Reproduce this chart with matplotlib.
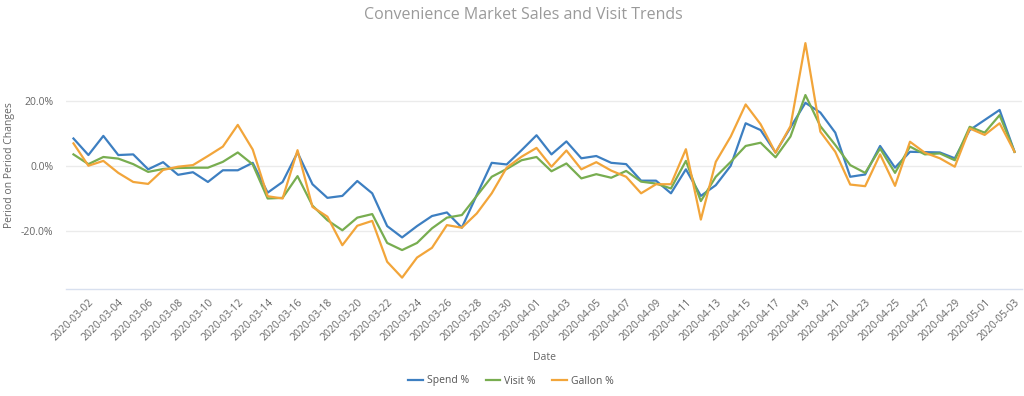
import matplotlib
matplotlib.use("Agg")
import matplotlib.pyplot as plt
import pandas as pd

# daily dates 2020-03-01 .. 2020-05-03
dates = pd.date_range("2020-03-01", "2020-05-03", freq="D").strftime("%Y-%m-%d").tolist()

spend = [8.4, 3.3, 9.2, 3.3, 3.5, -1.1, 1.1, -2.8, -2.0, -5.0,
         -1.4, -1.4, 0.9, -8.3, -5.0, 4.1, -5.7, -9.9, -9.3, -4.7,
         -8.5, -18.6, -22.1, -18.6, -15.5, -14.4, -19.1, -9.0, 0.9, 0.4,
         4.8, 9.4, 3.5, 7.5, 2.3, 3.0, 0.9, 0.5, -4.6, -4.6,
         -8.5, -1.1, -9.3, -6.0, 0.0, 13.1, 11.0, 4.1, 11.8, 19.4,
         16.4, 10.2, -3.4, -2.7, 6.1, -0.6, 4.3, 4.2, 4.1, 2.3,
         11.0, 14.1, 17.2, 4.3]
visit = [3.5, 0.5, 2.7, 2.2, 0.5, -1.9, -1.0, -0.7, -0.6, -0.6,
         1.2, 4.1, 0.4, -10.1, -9.9, -3.2, -12.3, -16.8, -19.9, -16.0,
         -14.9, -23.8, -26.0, -23.8, -19.3, -16.0, -15.2, -9.3, -3.4, -1.0,
         1.7, 2.7, -1.7, 0.7, -3.9, -2.6, -3.7, -1.6, -4.9, -5.5,
         -7.0, 1.5, -10.9, -3.4, 1.2, 6.1, 7.1, 2.6, 9.0, 21.8,
         12.2, 6.4, 0.2, -2.2, 5.3, -2.2, 5.9, 3.5, 3.8, 1.7,
         12.0, 10.2, 15.6, 4.3]
gallon = [6.9, 0.0, 1.5, -2.2, -5.0, -5.6, -1.3, -0.3, 0.2, 3.0,
          5.9, 12.6, 5.0, -9.4, -10.1, 4.8, -12.7, -15.7, -24.5, -18.5,
          -17.0, -29.6, -34.5, -28.3, -25.3, -18.3, -19.1, -14.7, -8.5, -0.6,
          2.8, 5.5, -0.3, 4.7, -1.1, 1.1, -1.5, -3.4, -8.5, -5.7,
          -5.7, 5.1, -16.6, 1.2, 9.0, 18.9, 12.8, 4.0, 12.2, 37.8,
          10.5, 4.3, -5.8, -6.3, 3.5, -6.2, 7.4, 4.0, 2.3, -0.3,
          11.5, 9.5, 13.1, 4.3]

series = [("Spend %", spend, "#3d7fc1"),
          ("Visit %", visit, "#78ad50"),
          ("Gallon %", gallon, "#f2a53a")]

plt.rcParams["font.family"] = ["Open Sans", "DejaVu Sans"]

fig = plt.figure(figsize=(10.24, 3.96), dpi=100)
ax = fig.add_axes([66 / 1024, 1 - 289 / 396, 956 / 1024, 253 / 396])

x = list(range(len(dates)))
for name, vals, col in series:
    ax.plot(x, vals, color=col, lw=1.6, label=name)

ax.set_xlim(-0.5, len(dates) - 0.5)
ax.set_ylim(-38, 40)
ax.set_yticks([-20, 0, 20])
ax.set_yticklabels(["-20.0%", "0.0%", "20.0%"])
ax.grid(axis="y", color="#ebebeb", lw=1)
ax.set_axisbelow(True)

ax.set_xticks(x[1::2])
ax.set_xticklabels(dates[1::2], rotation=45, ha="right", rotation_mode="anchor")
ax.tick_params(axis="x", length=0, pad=6, labelsize=7.5, labelcolor="#666666")
ax.tick_params(axis="y", length=0, pad=9, labelsize=7.5, labelcolor="#666666")

for s in ["top", "right", "left"]:
    ax.spines[s].set_visible(False)
ax.spines["bottom"].set_color("#d8e0ef")
ax.spines["bottom"].set_linewidth(1)

ax.set_xlabel("Date", fontsize=7.5, color="#666666", labelpad=6)
fig.text(10 / 1024, 1 - 165 / 396, "Period on Period Changes", rotation=90,
         ha="center", va="center", fontsize=7.5, color="#666666")

fig.text(523 / 1024, 1 - 15 / 396, "Convenience Market Sales and Visit Trends",
         ha="center", va="center", fontsize=11.5, color="#9a9a9a")

fig.legend(loc="center", bbox_to_anchor=(511 / 1024, 1 - 381 / 396), ncol=3,
           frameon=False, fontsize=7.5, labelcolor="#555555",
           handlelength=1.4, handletextpad=0.4, columnspacing=1.6)

fig.savefig("out.png", dpi=100)
